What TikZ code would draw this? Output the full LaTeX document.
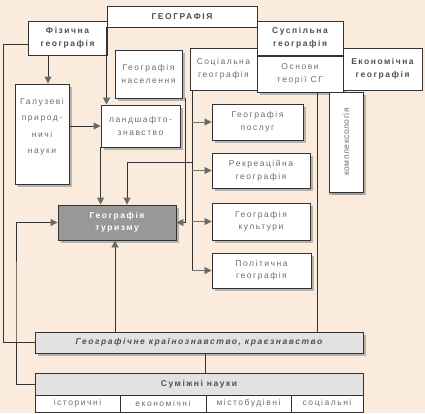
\documentclass[tikz,border=0pt]{standalone}
\usepackage{fontspec}
\setmainfont{Liberation Sans}[LetterSpace=18]
\usetikzlibrary{arrows.meta,shadows}
\definecolor{bg}{HTML}{FAEBDC}
\definecolor{txt}{HTML}{6E6E6E}
\definecolor{txtb}{HTML}{505050}
\definecolor{lnc}{HTML}{333333}
\definecolor{tip}{HTML}{6A6A6A}
\definecolor{darkfill}{HTML}{989898}
\definecolor{lightfill}{HTML}{E2E2E2}
\tikzset{
  box/.style={draw=lnc, line width=0.9pt, fill=white, align=center, inner sep=1pt,
    font=\fontsize{8.5}{12.5}\selectfont, text=txt,
    drop shadow={shadow xshift=2.5pt, shadow yshift=-2.5pt, fill=black!45, opacity=0.6}},
  flatbox/.style={draw=lnc, line width=0.9pt, fill=white, align=center, inner sep=1pt,
    font=\fontsize{8.5}{12.5}\selectfont, text=txt},
  boldt/.style={font=\fontsize{8.5}{12.5}\selectfont\bfseries, text=txtb},
  ln/.style={draw=lnc, line width=0.9pt},
  lnl/.style={draw=black!55, line width=0.8pt},
  arr/.style={-{Triangle[length=7pt,width=7pt,color=tip]}},
}
\begin{document}
\begin{tikzpicture}[x=1pt,y=-1pt]
\fill[bg] (0,0) rectangle (425,413);
\useasboundingbox (0,0) rectangle (425,413);

% top row
\node[flatbox, boldt, minimum width=150, minimum height=21] (geo) at (182,16.5) {ГЕОГРАФІЯ};
\node[flatbox, boldt, minimum width=79, minimum height=34] (fiz) at (67.5,38) {Фізична\\географія};
\node[flatbox, boldt, minimum width=86, minimum height=34] (susp) at (300,38) {Суспільна\\географія};
\node[box, minimum width=86, minimum height=36] (osn) at (300,74) {Основи\\теорії СГ};
\node[flatbox, minimum width=67, minimum height=42] (soc) at (223.5,69) {Соціальна\\географія};
\node[flatbox, boldt, minimum width=79, minimum height=42] (econ) at (382.5,69) {Економічна\\географія};
\node[box, rotate=90, minimum width=100, minimum height=34,
  drop shadow={shadow xshift=0pt, shadow yshift=-3pt, fill=black!45, opacity=0.6}] (kompl) at (346,142)
  {\addfontfeatures{LetterSpace=6}комплексологія};

% left column
\node[box, minimum width=54, minimum height=100] (galuz) at (42,134)
  {Галузеві\\[4pt]природ-\\[4pt]ничі\\[4pt]науки\\[4pt]\mbox{}};
\node[box, minimum width=67, minimum height=48] (nasel) at (148.5,74) {Географія\\населення};
\node[box, minimum width=79, minimum height=42] (land) at (140.5,126) {ландшафто-\\знавство};

% right column
\node[box, minimum width=91, minimum height=36] (posl) at (257.5,122) {Географія\\послуг};
\node[box, minimum width=98, minimum height=35] (rekr) at (261,170.5) {Рекреаційна\\географія};
\node[box, minimum width=98, minimum height=37] (kult) at (261,221.5) {Географія\\культури};
\node[box, minimum width=99, minimum height=35] (polit) at (261.5,270.5) {Політична\\географія};

% tourism
\node[box, fill=darkfill, minimum width=118, minimum height=35,
  font=\fontsize{8.5}{12.5}\selectfont\bfseries, text=white] (tur) at (117,222.5) {Географія\\туризму};

% bottom
\node[box, fill=lightfill, minimum width=328, minimum height=21,
  font=\fontsize{8.5}{12.5}\selectfont\bfseries\itshape, text=txtb] (kraino) at (199,342.5)
  {Географічне країнознавство, краєзнавство};
\node[flatbox, fill=lightfill, boldt, minimum width=328, minimum height=22] (sumizh) at (199,384) {Суміжні науки};
\node[flatbox, minimum width=85, minimum height=17] (ist) at (77.5,403.5) {історичні};
\node[flatbox, minimum width=86, minimum height=17] (ekn) at (163,403.5) {економічні};
\node[flatbox, minimum width=85, minimum height=17] (misto) at (248.5,403.5) {містобудівні};
\node[flatbox, minimum width=72, minimum height=17] (socn) at (327,403.5) {соціальні};

% bend coordinates
\coordinate (L1) at (3,44);
\coordinate (L2) at (16,300);
\coordinate (T1) at (192,0);
\coordinate (J1) at (127,162);
\coordinate (N1) at (185,98);
\coordinate (O1) at (317,0);
\coordinate (K1) at (205,0);
\coordinate (F1) at (48,0);
\coordinate (TU1) at (115,0);

% connectors
\draw[ln] (fiz.west |- L1) -- (L1) |- (kraino.west);
\draw[ln,arr] (sumizh.west) -| (L2) |- (tur.west);
\draw[ln,arr] (F1 |- fiz.south) -- (F1 |- galuz.north);
\draw[ln,arr] (galuz.east |- land.west) -- (land.west);
\draw[ln,arr] (geo.south west) -- (geo.south west |- land.north);
\draw[ln,arr] (land.south west) -- (land.south west |- tur.north);
\draw[ln] (T1 |- soc.south) -- (T1 |- polit.west);
\draw[lnl,arr] (T1 |- posl.west) -- (posl.west);
\draw[lnl,arr] (T1 |- rekr.west) -- (rekr.west);
\draw[lnl,arr] (T1 |- kult.west) -- (kult.west);
\draw[lnl,arr] (T1 |- polit.west) -- (polit.west);
\draw[ln,arr] (T1 |- J1) -- (J1) -- (J1 |- tur.north);
\draw[ln,arr] (N1) |- (tur.east);
\draw[ln] (O1 |- osn.south) -- (O1 |- kraino.north);
\draw[ln,arr] (TU1 |- kraino.north) -- (TU1 |- tur.south);
\draw[ln] (K1 |- kraino.south) -- (K1 |- sumizh.north);
\end{tikzpicture}
\end{document}
